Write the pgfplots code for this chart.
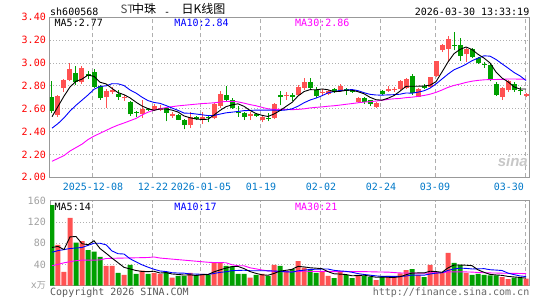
\documentclass[border=0pt]{standalone}
\usepackage{pgfplots}
\pgfplotsset{compat=1.18}
\usepackage{pgfplotstable}
\usepackage{fontspec}
\setmainfont{DejaVu Sans Mono}
\newfontfamily\cjk{Noto Sans CJK SC}
\newfontfamily\sinafont{Liberation Sans}
\newcommand\lbl{\fontsize{10bp}{12bp}\selectfont}
\definecolor{upred}{RGB}{255,82,82}
\definecolor{dngreen}{RGB}{0,160,0}
\definecolor{framegray}{RGB}{153,153,153}
\definecolor{gridgray}{RGB}{175,175,175}
\definecolor{tickblue}{RGB}{0,120,200}
\definecolor{mablue}{RGB}{0,0,255}
\definecolor{mamag}{RGB}{255,0,255}
\definecolor{volgray}{RGB}{160,160,160}

\pgfplotstableread{
i o h l c v
1 2.545 2.72 2.53 2.71 77
2 2.78 2.86 2.75 2.85 26
3 2.85 3.00 2.84 2.945 128
5 2.83 2.97 2.82 2.96 84
9 2.705 2.77 2.61 2.755 37
10 2.75 2.79 2.73 2.765 37
12 2.69 2.72 2.67 2.70 20
15 2.55 2.675 2.52 2.60 28
17 2.59 2.64 2.58 2.625 24
18 2.59 2.63 2.58 2.61 22
20 2.54 2.57 2.52 2.55 15
23 2.455 2.567 2.43 2.53 24
25 2.50 2.567 2.47 2.53 22
27 2.515 2.65 2.51 2.64 43
28 2.62 2.755 2.61 2.73 43
33 2.54 2.567 2.50 2.55 15
35 2.50 2.54 2.48 2.53 22
37 2.515 2.65 2.51 2.64 39
39 2.71 2.75 2.68 2.72 28
41 2.72 2.81 2.71 2.79 46
42 2.785 2.87 2.76 2.835 34
45 2.735 2.77 2.71 2.745 26
46 2.73 2.76 2.72 2.755 18
48 2.755 2.82 2.75 2.80 26
51 2.66 2.705 2.65 2.69 20
54 2.615 2.66 2.61 2.65 10
56 2.755 2.80 2.75 2.775 18
57 2.765 2.79 2.75 2.775 16
58 2.77 2.85 2.76 2.84 23
59 2.78 2.87 2.77 2.86 29
61 2.705 2.78 2.70 2.775 20
63 2.79 2.88 2.78 2.875 39
64 2.89 3.02 2.88 3.015 26
65 3.11 3.17 3.10 3.16 24
66 3.125 3.24 3.01 3.21 62
69 3.075 3.13 3.01 3.12 24
75 2.705 2.79 2.68 2.785 16
76 2.76 2.85 2.75 2.84 12
79 2.715 2.74 2.70 2.725 13
}\redk

\pgfplotstableread{
i o h l c v
0 2.70 2.84 2.56 2.58 152
4 2.915 2.975 2.81 2.83 81
6 2.905 2.93 2.86 2.89 67
7 2.92 2.95 2.78 2.79 64
8 2.80 2.81 2.68 2.69 54
11 2.725 2.76 2.68 2.705 24
13 2.66 2.67 2.54 2.55 39
14 2.575 2.58 2.53 2.565 22
16 2.60 2.61 2.58 2.59 22
19 2.605 2.61 2.49 2.565 26
21 2.545 2.555 2.50 2.505 18
22 2.50 2.51 2.42 2.455 18
24 2.53 2.54 2.50 2.51 20
26 2.53 2.54 2.48 2.515 20
29 2.72 2.80 2.66 2.675 37
30 2.675 2.69 2.60 2.61 36
31 2.567 2.62 2.53 2.56 22
32 2.565 2.57 2.50 2.53 22
34 2.55 2.56 2.53 2.54 20
36 2.52 2.56 2.49 2.51 18
38 2.72 2.755 2.63 2.70 37
40 2.72 2.74 2.67 2.705 31
43 2.835 2.87 2.76 2.785 29
44 2.76 2.79 2.69 2.71 24
47 2.77 2.78 2.74 2.75 14
49 2.775 2.78 2.72 2.755 20
50 2.76 2.77 2.74 2.75 14
52 2.69 2.70 2.64 2.66 18
53 2.675 2.68 2.62 2.645 16
55 2.755 2.76 2.72 2.73 16
60 2.89 2.90 2.72 2.735 31
62 2.795 2.82 2.77 2.785 16
67 3.16 3.27 3.11 3.15 43
68 3.16 3.22 3.02 3.06 39
70 3.125 3.13 3.04 3.05 20
71 3.04 3.05 2.99 3.00 22
72 2.99 3.01 2.96 2.984 20
73 2.985 2.99 2.84 2.85 19
74 2.82 2.83 2.71 2.72 19
77 2.82 2.83 2.75 2.76 15
78 2.765 2.79 2.72 2.755 14
}\grnk

\pgfplotsset{
  kbase/.style={
    scale only axis, width=479.5bp, xmin=-0.333, xmax=79.58,
    clip=true,
    axis line style={draw=framegray, line width=1bp},
    major tick length=0pt,
    xmajorgrids, ymajorgrids,
    major x grid style={draw=gridgray, dash pattern=on 4bp off 3bp, line width=1bp},
    major y grid style={draw=gridgray, dash pattern=on 1bp off 2bp, line width=1bp},
    xtick={6.83,16.83,24.83,34.83,44.83,54.83,63.83,78.83},
    tick label style={font=\lbl},
  },
  wick/.style={draw=none, mark=none, forget plot,
    error bars/.cd, y dir=plus, y explicit, error mark=none,
    error bar style={draw=#1, solid, line width=1bp}},
  body/.style={draw=none, mark=none, forget plot,
    error bars/.cd, y dir=plus, y explicit, error mark=none,
    error bar style={draw=#1, solid, line width=5bp}},
}

\begin{document}
\begin{tikzpicture}

% ---------- price panel ----------
\begin{axis}[kbase, anchor=south west, at={(50bp,122.7bp)}, height=160bp,
  ymin=2, ymax=3.4,
  ytick={2,2.2,2.4,2.6,2.8,3,3.2,3.4},
  yticklabels={2.00,2.20,2.40,2.60,2.80,3.00,3.20,3.40},
  yticklabel style={text=red, anchor=east, inner sep=0pt, xshift=-4bp},
  xticklabels={2025-12-08,12-22,2026-01-05,01-19,02-02,02-24,03-09,\makebox[0pt][r]{03-30\kern1bp}},
  xticklabel style={text=tickblue, anchor=north, inner sep=0pt, yshift=-5.5bp},
]
\addplot[wick=upred] table[x=i, y=l, y error expr=\thisrow{h}-\thisrow{l}] {\redk};
\addplot[body=upred] table[x=i, y=o, y error expr=\thisrow{c}-\thisrow{o}] {\redk};
\addplot[wick=dngreen] table[x=i, y=l, y error expr=\thisrow{h}-\thisrow{l}] {\grnk};
\addplot[body=dngreen] table[x=i, y=c, y error expr=\thisrow{o}-\thisrow{c}] {\grnk};

\addplot[mamag, line width=0.9bp, mark=none] coordinates {(0,2.14)(1,2.165)(2,2.19)(3,2.23)(4,2.26)(5,2.29)(6,2.33)(7,2.36)(8,2.385)(9,2.41)(10,2.435)(11,2.457)(12,2.475)(13,2.495)(14,2.515)(15,2.545)(16,2.57)(17,2.588)(18,2.60)(19,2.61)(20,2.618)(21,2.625)(22,2.63)(23,2.635)(24,2.64)(25,2.645)(26,2.648)(27,2.652)(28,2.658)(29,2.664)(30,2.665)(31,2.660)(32,2.649)(33,2.636)(34,2.626)(35,2.612)(36,2.599)(37,2.594)(38,2.595)(39,2.594)(40,2.592)(41,2.594)(42,2.599)(43,2.607)(44,2.612)(45,2.616)(46,2.622)(47,2.626)(48,2.632)(49,2.639)(50,2.645)(51,2.652)(52,2.658)(53,2.662)(54,2.667)(55,2.674)(56,2.682)(57,2.687)(58,2.690)(59,2.697)(60,2.701)(61,2.708)(62,2.716)(63,2.727)(64,2.743)(65,2.764)(66,2.787)(67,2.804)(68,2.816)(69,2.830)(70,2.841)(71,2.848)(72,2.853)(73,2.855)(74,2.856)(75,2.857)(76,2.860)(77,2.860)(78,2.859)(79,2.858)};
\addplot[mablue, line width=0.9bp, mark=none] coordinates {(0,2.43)(1,2.47)(2,2.52)(3,2.58)(4,2.63)(5,2.675)(6,2.72)(7,2.77)(8,2.795)(9,2.80)(10,2.819)(11,2.818)(12,2.803)(13,2.764)(14,2.737)(15,2.701)(16,2.671)(17,2.655)(18,2.647)(19,2.628)(20,2.606)(21,2.586)(22,2.562)(23,2.560)(24,2.554)(25,2.547)(26,2.540)(27,2.541)(28,2.553)(29,2.564)(30,2.57)(31,2.576)(32,2.583)(33,2.585)(34,2.588)(35,2.588)(36,2.588)(37,2.588)(38,2.585)(39,2.589)(40,2.599)(41,2.622)(42,2.652)(43,2.676)(44,2.693)(45,2.714)(46,2.739)(47,2.750)(48,2.760)(49,2.763)(50,2.768)(51,2.758)(52,2.74)(53,2.726)(54,2.72)(55,2.719)(56,2.721)(57,2.723)(58,2.727)(59,2.738)(60,2.736)(61,2.745)(62,2.757)(63,2.78)(64,2.817)(65,2.860)(66,2.903)(67,2.941)(68,2.963)(69,2.989)(70,3.02)(71,3.043)(72,3.063)(73,3.06)(74,3.031)(75,2.993)(76,2.956)(77,2.917)(78,2.887)(79,2.847)};
\addplot[black, line width=0.9bp, mark=none] coordinates {(0,2.53)(1,2.62)(2,2.71)(3,2.79)(4,2.84)(5,2.859)(6,2.895)(7,2.883)(8,2.832)(9,2.817)(10,2.778)(11,2.741)(12,2.723)(13,2.695)(14,2.657)(15,2.624)(16,2.601)(17,2.586)(18,2.598)(19,2.598)(20,2.588)(21,2.571)(22,2.537)(23,2.521)(24,2.51)(25,2.506)(26,2.508)(27,2.545)(28,2.585)(29,2.618)(30,2.634)(31,2.643)(32,2.621)(33,2.585)(34,2.558)(35,2.542)(36,2.532)(37,2.554)(38,2.584)(39,2.62)(40,2.655)(41,2.711)(42,2.75)(43,2.767)(44,2.765)(45,2.773)(46,2.766)(47,2.749)(48,2.752)(49,2.761)(50,2.762)(51,2.749)(52,2.731)(53,2.70)(54,2.679)(55,2.675)(56,2.692)(57,2.715)(58,2.754)(59,2.796)(60,2.797)(61,2.797)(62,2.799)(63,2.806)(64,2.837)(65,2.922)(66,3.009)(67,3.082)(68,3.119)(69,3.14)(70,3.118)(71,3.076)(72,3.043)(73,3.001)(74,2.921)(75,2.868)(76,2.836)(77,2.791)(78,2.772)(79,2.773)};
\end{axis}

% ---------- volume panel ----------
\begin{axis}[kbase, anchor=south west, at={(50bp,14.5bp)}, height=84.5bp,
  ymin=0, ymax=160,
  ytick={0,40,80,120,160},
  yticklabels={x{\cjk\fontsize{9bp}{10bp}\selectfont 万},40,80,120,160},
  yticklabel style={text=volgray, anchor=east, inner sep=0pt, xshift=-4bp},
  xticklabels={},
]
\addplot[ybar, bar width=5bp, bar shift=0pt, fill=upred, draw=none, forget plot] table[x=i, y=v] {\redk};
\addplot[ybar, bar width=5bp, bar shift=0pt, fill=dngreen, draw=none, forget plot] table[x=i, y=v] {\grnk};
\addplot[mamag, line width=0.9bp, mark=none] coordinates {(0,37.5)(1,40)(2,43)(3,45)(4,47)(5,48)(6,48)(7,48)(8,48.5)(9,51)(10,51.5)(12,52)(14,52.5)(16,53)(17,54)(18,52)(19,51)(20,50)(22,48)(24,46)(25,45)(26,44)(27,43.5)(28,43.3)(29,43.1)(30,39.3)(31,37.4)(32,37.3)(33,33.5)(34,31.5)(35,29.4)(36,27.8)(37,27)(38,26.4)(39,26.1)(40,25.9)(41,26.6)(42,27.1)(43,26.8)(44,26.8)(45,26.8)(46,26.6)(47,26.3)(48,26.4)(49,26.2)(50,26.2)(51,26.3)(52,26.3)(53,26)(54,25.7)(55,25.5)(56,25.4)(57,24.5)(58,23.8)(59,23.6)(60,23.4)(61,23.3)(62,23.1)(63,23.9)(64,24.1)(65,24.2)(66,25.7)(67,25.8)(68,25.9)(69,25.7)(70,25.4)(71,24.6)(72,24.1)(73,23.8)(74,23.6)(75,23.3)(76,23.1)(77,23.1)(78,22.7)(79,22.5)};
\addplot[mablue, line width=0.9bp, mark=none] coordinates {(0,63)(1,66)(2,68)(3,70)(4,71)(5,72)(6,76)(7,80)(8,80)(9,77)(10,65.5)(11,60.2)(12,59.6)(13,50.7)(14,44.8)(15,39.2)(16,34.7)(17,30.7)(18,27.5)(19,26.4)(20,24.2)(21,23.6)(22,23.4)(23,21.9)(24,21.7)(25,21.1)(26,20.9)(27,22.8)(28,24.9)(29,26)(30,28.1)(31,28.5)(32,28.9)(33,28)(34,28)(35,28)(36,27.8)(37,27.4)(38,26.8)(39,25.9)(40,25.4)(41,27.8)(42,29)(43,30.4)(44,30.8)(45,31.2)(46,31.2)(47,28.7)(48,27.6)(49,26.8)(50,25.1)(51,22.5)(52,20.9)(53,19.6)(54,18.2)(55,17.2)(56,17.2)(57,17.4)(58,17.1)(59,18)(60,19.7)(61,19.7)(62,19.5)(63,21.8)(64,23.4)(65,24.2)(66,28.6)(67,31.3)(68,32.9)(69,32.4)(70,31.3)(71,31.5)(72,31.9)(73,29.9)(74,29.2)(75,28.4)(76,23.4)(77,20.6)(78,18.1)(79,17)};
\addplot[black, line width=0.9bp, mark=none] coordinates {(0,72)(1,74)(2,68)(3,92)(4,92.8)(5,79.2)(6,77.2)(7,84.8)(8,70)(9,61.2)(10,51.8)(11,43.2)(12,34.4)(13,31.4)(14,28.4)(15,26.6)(16,26.2)(17,27)(18,23.6)(19,24.4)(20,21.8)(21,21)(22,19.8)(23,20.2)(24,19)(25,20.4)(26,20.8)(27,25.8)(28,29.6)(29,33)(30,35.8)(31,36.2)(32,32)(33,26.4)(34,23)(35,20.2)(36,19.4)(37,22.8)(38,27.2)(39,28.8)(40,30.6)(41,36.2)(42,35.2)(43,33.6)(44,32.8)(45,31.8)(46,26.2)(47,22.2)(48,21.6)(49,20.8)(50,18.4)(51,18.8)(52,19.6)(53,17.6)(54,15.6)(55,16)(56,15.6)(57,15.2)(58,16.6)(59,20.4)(60,23.4)(61,23.8)(62,23.8)(63,27)(64,26.4)(65,25)(66,33.4)(67,38.8)(68,38.8)(69,38.4)(70,37.6)(71,29.6)(72,25)(73,21)(74,20)(75,19.2)(76,17.2)(77,16.2)(78,15.2)(79,14)};
\end{axis}

% ---------- texts ----------
\begin{scope}[x=1bp,y=1bp]
\node[anchor=base west, inner sep=0pt, font=\lbl] at (50,285) {sh600568};
\node[anchor=base west, inner sep=0pt, font=\cjk\fontsize{11.5bp}{14bp}\selectfont, text=black!70] at (120.5,286.2) {ST};
\node[anchor=base west, inner sep=0pt, font=\cjk\fontsize{12bp}{14bp}\selectfont] at (132,286.2) {中珠};
\node[anchor=base west, inner sep=0pt, font=\lbl] at (164,285) {-};
\node[anchor=base west, inner sep=0pt, font=\cjk\fontsize{12bp}{14bp}\selectfont] at (181.5,286.2) {日K线图};
\node[anchor=base east, inner sep=0pt, font=\lbl] at (529.5,285) {2026-03-30 13:33:19};

\node[anchor=base west, inner sep=0pt, font=\lbl] at (54.5,273.3) {MA5:2.77};
\node[anchor=base west, inner sep=0pt, font=\lbl, text=mablue] at (174.3,273.3) {MA10:2.84};
\node[anchor=base west, inner sep=0pt, font=\lbl, text=mamag] at (295,273.3) {MA30:2.86};

\node[anchor=base west, inner sep=0pt, font=\lbl] at (54.5,90) {MA5:14};
\node[anchor=base west, inner sep=0pt, font=\lbl, text=mablue] at (174.3,90) {MA10:17};
\node[anchor=base west, inner sep=0pt, font=\lbl, text=mamag] at (295,90) {MA30:21};

\node[anchor=base west, inner sep=0pt, font=\lbl, text=black!65] at (50,5) {Copyright 2026 SINA.COM};
\node[anchor=base east, inner sep=0pt, font=\lbl, text=black!60] at (529.5,5) {http://finance.sina.com.cn};

\node[anchor=base east, inner sep=0pt, font=\sinafont\bfseries\itshape\fontsize{15bp}{16bp}\selectfont, text=black!22] at (528,134) {sina};
\end{scope}

\pgfresetboundingbox
\useasboundingbox (0,0) rectangle (545bp,300bp);
\end{tikzpicture}
\end{document}
